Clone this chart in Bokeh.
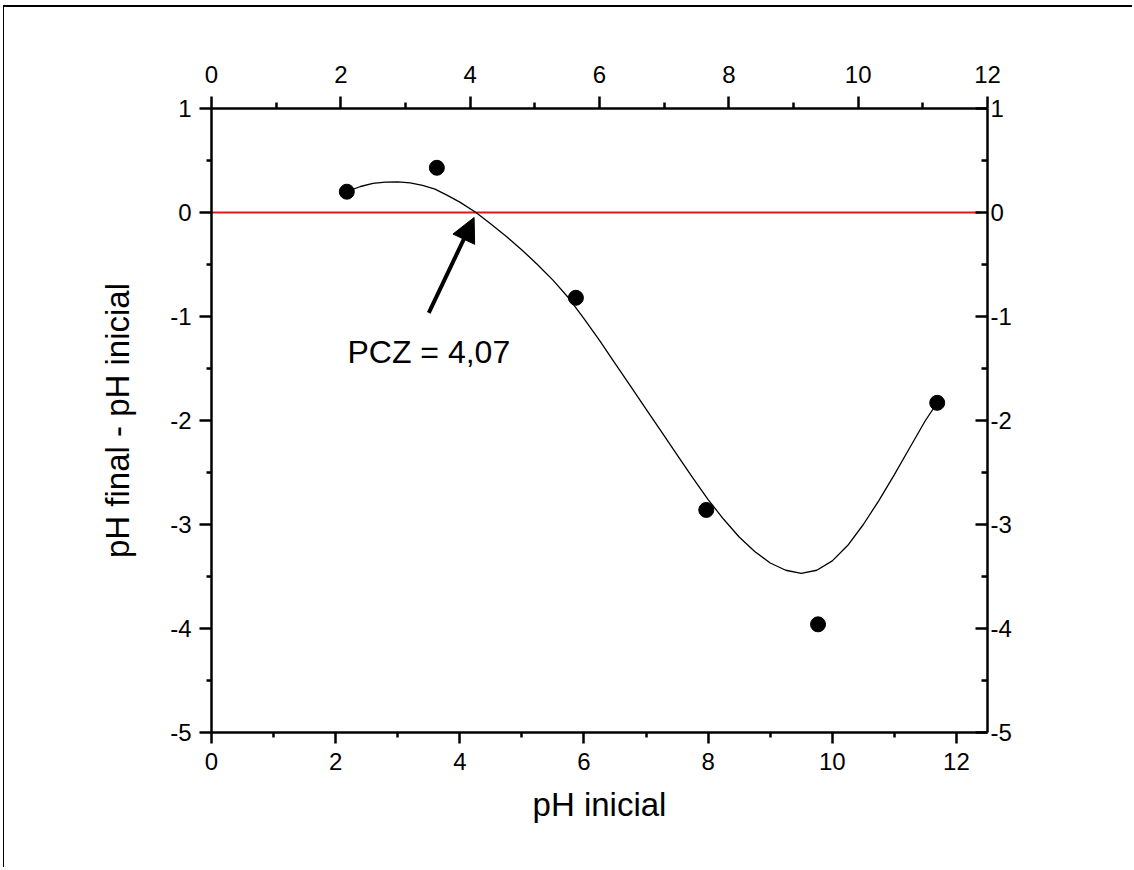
from bokeh.plotting import figure
from bokeh.models import Range1d, LinearAxis, FixedTicker, Arrow, NormalHead, Label
from bokeh.embed import file_html
from bokeh.resources import INLINE

# ---- data ----
ph_inicial = [2.18, 3.63, 5.87, 7.97, 9.77, 11.69]
delta_ph = [0.20, 0.43, -0.82, -2.86, -3.96, -1.83]

# fitted curve as drawn in the reference
fit_x = [2.18, 2.4, 2.6, 2.8, 3.0, 3.2, 3.4, 3.6, 3.8, 4.0, 4.26, 4.5, 4.75,
         5.0, 5.25, 5.5, 5.75, 6.0, 6.25, 6.5, 6.75, 7.0, 7.25, 7.5, 7.75,
         8.0, 8.25, 8.5, 8.75, 9.0, 9.25, 9.5, 9.75, 10.0, 10.25, 10.5,
         10.75, 11.0, 11.25, 11.5, 11.69]
fit_y = [0.20, 0.25, 0.28, 0.293, 0.295, 0.285, 0.26, 0.225, 0.165, 0.10, 0.0,
         -0.11, -0.23, -0.36, -0.50, -0.65, -0.82, -1.02, -1.23, -1.45, -1.67,
         -1.89, -2.11, -2.33, -2.55, -2.76, -2.95, -3.12, -3.26, -3.37, -3.44,
         -3.47, -3.44, -3.35, -3.20, -3.00, -2.77, -2.52, -2.26, -2.00, -1.83]

zero_x = [0.0, 12.4]
zero_y = [0.0, 0.0]

arrow_x = [3.50, 4.23]
arrow_y = [-0.966, -0.048]

pcz_text = "PCZ = 4,07"
pcz_pos = (2.19, -1.345)

x_ticks = [0, 2, 4, 6, 8, 10, 12]
x_minor = [1, 3, 5, 7, 9, 11]
y_ticks = [-5, -4, -3, -2, -1, 0, 1]
y_minor = [-4.5, -3.5, -2.5, -1.5, -0.5, 0.5]
y_tick_labels = ["-5", "-4", "-3", "-2", "-1", "0", "1"]
x_tick_labels = ["0", "2", "4", "6", "8", "10", "12"]

x_title = "pH inicial"
y_title = "pH final - pH inicial"

FONT = "Liberation Sans"

p = figure(width=1129, height=862, output_backend="svg", toolbar_location=None,
           x_range=Range1d(0, 12.5), y_range=Range1d(-5, 1),
           x_axis_location=None, y_axis_location=None,
           min_border_left=207, min_border_right=146,
           min_border_top=101, min_border_bottom=137)
p.extra_x_ranges = {"top": Range1d(0, 12)}
p.grid.visible = False
p.outline_line_color = None
p.background_fill_color = "white"
p.border_fill_color = "white"
p.styles = {"border-top": "2px solid black", "border-left": "1px solid black",
            "margin-top": "5px", "margin-left": "3px"}


def style_axis(ax, mj_in, mj_out, mn_in, mn_out, standoff):
    ax.axis_line_width = 2.5
    ax.axis_line_color = "black"
    ax.major_tick_line_width = 2.5
    ax.minor_tick_line_width = 2.5
    ax.major_tick_line_color = "black"
    ax.minor_tick_line_color = "black"
    ax.major_tick_in = mj_in
    ax.major_tick_out = mj_out
    ax.minor_tick_in = mn_in
    ax.minor_tick_out = mn_out
    ax.major_label_text_font = FONT
    ax.major_label_text_font_size = "24px"
    ax.major_label_text_color = "black"
    ax.major_label_standoff = standoff
    ax.axis_label_text_font = FONT
    ax.axis_label_text_font_size = "33px"
    ax.axis_label_text_font_style = "normal"
    ax.axis_label_text_color = "black"


xlab = {t: s for t, s in zip(x_ticks, x_tick_labels)}
ylab = {t: s for t, s in zip(y_ticks, y_tick_labels)}

bottom = LinearAxis(ticker=FixedTicker(ticks=x_ticks, minor_ticks=x_minor),
                    axis_label=x_title, major_label_overrides=xlab)
style_axis(bottom, 0, 11, 0, 5, 9)
bottom.axis_label_standoff = 13
p.add_layout(bottom, "below")

top = LinearAxis(x_range_name="top", ticker=FixedTicker(ticks=x_ticks, minor_ticks=x_minor),
                 major_label_overrides=xlab)
style_axis(top, 0, 12, 0, 6, 14)
p.add_layout(top, "above")

left = LinearAxis(ticker=FixedTicker(ticks=y_ticks, minor_ticks=y_minor),
                  axis_label=y_title, major_label_overrides=ylab)
style_axis(left, 0, 12, 0, 5, 8)
left.axis_label_standoff = 31
p.add_layout(left, "left")

right = LinearAxis(ticker=FixedTicker(ticks=y_ticks, minor_ticks=y_minor),
                   major_label_overrides=ylab)
style_axis(right, 12, 0, 6, 0, 3)
p.add_layout(right, "right")

p.line(zero_x, zero_y, line_color="#e4161b", line_width=2)
p.line(fit_x, fit_y, line_color="black", line_width=1.3)
p.scatter(ph_inicial, delta_ph, size=15, fill_color="black", line_color="black")

p.add_layout(Arrow(end=NormalHead(size=24, fill_color="black", line_color="black"),
                   x_start=arrow_x[0], y_start=arrow_y[0],
                   x_end=arrow_x[1], y_end=arrow_y[1],
                   line_width=4, line_color="black"))

p.add_layout(Label(x=pcz_pos[0], y=pcz_pos[1], text=pcz_text, text_font=FONT,
                   text_font_size="32px", text_color="black",
                   text_baseline="alphabetic", text_align="left"))

open("out.html", "w").write(file_html(p, INLINE))
